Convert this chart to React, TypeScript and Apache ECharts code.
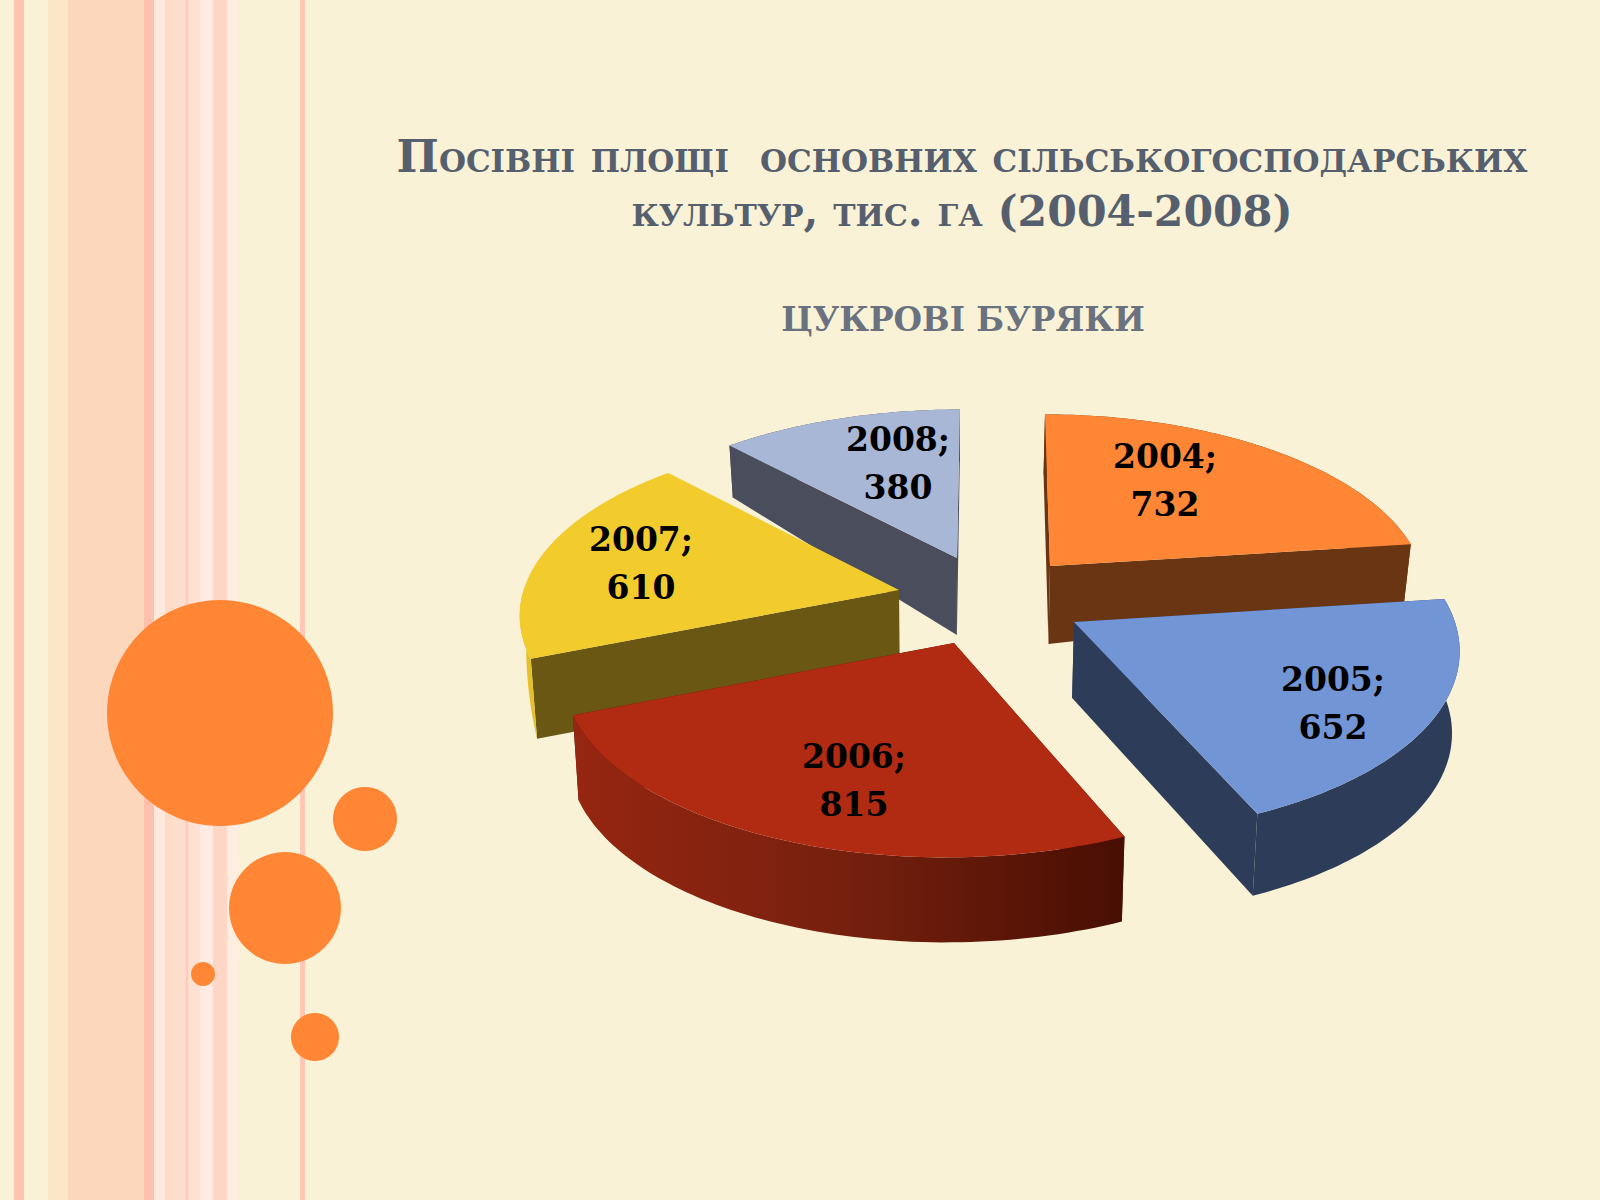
import React, { useEffect, useRef } from "react";
import * as echarts from "echarts";

const years = ["2004", "2005", "2006", "2007", "2008"];
const areas = [732, 652, 815, 610, 380];

const TITLE_LINE_1 = "Посівні площі  основних сільськогосподарських";
const TITLE_LINE_2 = "культур, тис. га (2004-2008)";
const SUBTITLE = "ЦУКРОВІ БУРЯКИ";

// Exploded-slice drawing parameters, one per year (not data).
const apexX = [1050, 1074, 954, 899, 957];
const apexY = [566, 622, 643, 590, 558];
const sizeScaleX = [1.008, 1.035, 1.05, 1.02, 1.01];
const sizeScaleY = [0.98, 1.04, 1.05, 1.0, 0.96];
const shear = [0.033, 0.04, -0.04, -0.012, -0.02];
const apexDepth = [78, 76, 85, 80, 77];
const rimDepth = [60, 82, 85, 80, 52];
const rimTaper = [0, 0, 0, 3.2, 0];
const paintOrder = [1, 3, 4, 2, 0];
const topColors = ["#FF8635", "#7295D6", "#B12B13", "#F2CC2C", "#A9B7D6"];
const radialColors = ["#6A3513", "#2D3C59", "#5A1408", "#6B5714", "#4A4E5C"];
const rimColors = ["#6A3513", "#2D3C59", "RED", "#E6C02C", "#4A4E5C"];
const labelX = [1165, 1333, 854, 641, 898];
const labelY = [480, 703, 780, 563, 463];

const RX = 368;
const RY = 176;
const PERSPECTIVE = 0.138;
const VANISH_X = 950;
const VANISH_PULL = 0.015;

const BG = "#F9F2D6";
const stripes: [number, number, string][] = [
  [14, 24, "#FFC4B0"],
  [48, 68, "#FBE6C8"],
  [68, 144, "#FDD7BC"],
  [144, 154, "#FFC0AD"],
  [154, 165, "#FFE8DD"],
  [165, 172, "#FCDCC4"],
  [172, 186, "#FDDDCE"],
  [186, 188, "#FFC9B5"],
  [188, 200, "#FFE0D2"],
  [200, 213, "#FFEBE3"],
  [213, 227, "#FFD6C6"],
  [227, 240, "#FFEDE0"],
  [300, 305, "#FFC7B4"],
];
const circles: [number, number, number][] = [
  [220, 713, 113],
  [365, 819, 32],
  [285, 908, 56],
  [203, 974, 12],
  [315, 1037, 24],
];

const total = areas.reduce((a, b) => a + b, 0);

function rimPoint(i: number, deg: number): [number, number] {
  const t = (deg * Math.PI) / 180;
  const s = 1 / (1 + PERSPECTIVE * Math.cos(t));
  const y = -RY * Math.cos(t) * s * sizeScaleY[i];
  const x = RX * Math.sin(t) * s * sizeScaleX[i] + shear[i] * y;
  return [apexX[i] + x, apexY[i] + y];
}

function drop(p: [number, number], depth: number): [number, number] {
  return [p[0] + (VANISH_X - p[0]) * VANISH_PULL, p[1] + depth];
}

function renderSlice(params: any, api: any) {
  const i = params.dataIndex;
  let before = 0;
  for (let k = 0; k < i; k++) before += areas[k];
  const a0 = (before / total) * 360;
  const a1 = a0 + (api.value(0) / total) * 360;
  const arc: [number, number][] = [];
  const N = 72;
  for (let k = 0; k <= N; k++) arc.push(rimPoint(i, a0 + ((a1 - a0) * k) / N));
  const apex: [number, number] = [apexX[i], apexY[i]];
  const apexLow = drop(apex, apexDepth[i]);
  const arcLow = arc.map((p, k) => {
    const depth = rimDepth[i] * (1 - rimTaper[i] * (k / N));
    return depth > 0 ? drop(p, depth) : p;
  });
  const base = paintOrder[i] * 10;

  const rimFill =
    rimColors[i] === "RED"
      ? new echarts.graphic.LinearGradient(0, 0, 1, 0, [
          { offset: 0, color: "#962611" },
          { offset: 0.5, color: "#76200E" },
          { offset: 1, color: "#480E03" },
        ])
      : rimColors[i];

  const poly = (points: number[][], fill: any, z: number) => ({
    type: "polygon",
    z2: base + z,
    shape: { points },
    style: { fill, stroke: "none" },
    silent: true,
  });

  const faces = [poly([apex, arc[0], arcLow[0], apexLow], radialColors[i], 1)];
  if (!rimTaper[i]) faces.push(poly([apex, arc[N], arcLow[N], apexLow], radialColors[i], 2));

  return {
    type: "group",
    children: [
      ...faces,
      poly([...arc, ...arcLow.slice().reverse()], rimFill, 3),
      poly([apex, ...arc], topColors[i], 5),
      {
        type: "text",
        z2: 200 + i,
        silent: true,
        style: {
          x: labelX[i],
          y: labelY[i],
          text: `${api.value(1)};\n${api.value(0)}`,
          fill: "#000000",
          font: "bold 33px 'DejaVu Serif'",
          lineHeight: 48,
          align: "center",
          verticalAlign: "middle",
        },
      },
    ],
  };
}

export default function App() {
  const ref = useRef<HTMLDivElement>(null);
  useEffect(() => {
    document.body.style.margin = "0";
    const chart = echarts.init(ref.current!, null, { renderer: "svg" });
    chart.setOption({
      animation: false,
      backgroundColor: BG,
      title: [
        {
          text: SUBTITLE,
          left: 958,
          top: 298,
          textAlign: "center",
          textStyle: {
            fontWeight: "bold",
            fontFamily: "'DejaVu Serif'",
            fontSize: 32.7,
            color: "#6A7280",
          },
        },
      ],
      graphic: [
        ...stripes.map(([x0, x1, fill]) => ({
          type: "rect",
          z: -10,
          silent: true,
          shape: { x: x0, y: 0, width: x1 - x0, height: 1200 },
          style: { fill },
        })),
        ...circles.map(([cx, cy, r]) => ({
          type: "circle",
          z: -5,
          silent: true,
          shape: { cx, cy, r },
          style: { fill: "#FF8635" },
        })),
        {
          type: "text",
          z: 5,
          silent: true,
          x: 962,
          y: 156,
          style: {
            text: TITLE_LINE_1,
            font: "small-caps bold 44.8px 'DejaVu Serif'",
            fill: "#565F6E",
            align: "center",
            verticalAlign: "middle",
          },
        },
        {
          type: "text",
          z: 5,
          silent: true,
          x: 962,
          y: 211,
          style: {
            text: TITLE_LINE_2,
            font: "small-caps bold 42.6px 'DejaVu Serif'",
            fill: "#565F6E",
            align: "center",
            verticalAlign: "middle",
          },
        },
      ],
      series: [
        {
          type: "custom",
          coordinateSystem: "none",
          renderItem: renderSlice,
          data: areas.map((v, i) => [v, years[i]]),
          silent: true,
        },
      ],
    });
    return () => chart.dispose();
  }, []);
  return <div ref={ref} style={{ position: "absolute", left: 0, top: 0, width: 1600, height: 1200 }} />;
}
